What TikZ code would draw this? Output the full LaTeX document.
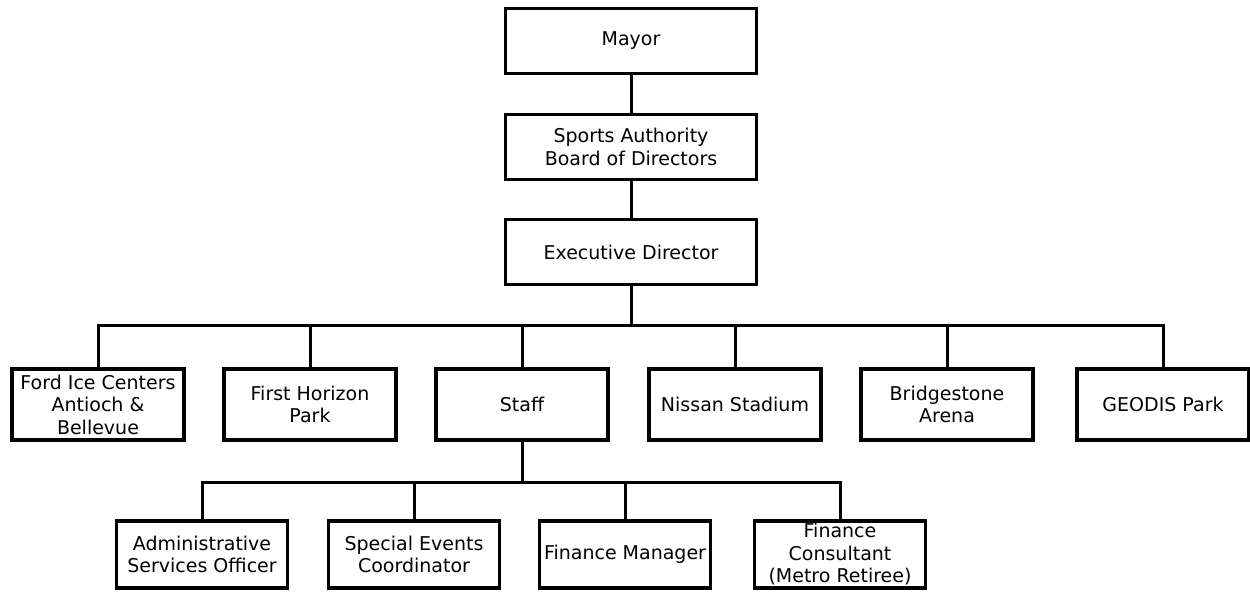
\documentclass[tikz,border=0pt]{standalone}
\usepackage{fontspec}
\setmainfont{DejaVu Sans}
\usepackage{tikz}
\usetikzlibrary{positioning, calc}

\begin{document}
\begin{tikzpicture}[
  x=1pt, y=-1pt,
  box/.style={draw, line width=3.6pt, minimum width=172pt, minimum height=71pt, align=center, inner sep=1pt, font=\fontsize{19}{22.5}\selectfont},
  topbox/.style={box, minimum width=251pt, minimum height=65pt},
  subbox/.style={box, minimum width=171pt, minimum height=67pt},
  link/.style={line width=3pt}
]
  \useasboundingbox (0,0) rectangle (1250,592);
  \def\busy{325}
  \def\subbusy{482}

  \node[topbox] (mayor) at (631,41) {Mayor};
  \node[topbox] (board) at (631,147) {Sports Authority\\Board of Directors};
  \node[topbox] (exec) at (631,252) {Executive Director};

  \node[box] (ford) at (98,404.5) {Ford Ice Centers\\Antioch \&\\Bellevue};
  \node[box] (fhp) at (310,404.5) {First Horizon\\Park};
  \node[box] (staff) at (522,404.5) {Staff};
  \node[box] (nissan) at (735,404.5) {Nissan Stadium};
  \node[box] (bridge) at (947,404.5) {Bridgestone\\Arena};
  \node[box] (geodis) at (1163,404.5) {GEODIS Park};

  \node[subbox] (aso) at (202,554.5) {Administrative\\Services Officer};
  \node[subbox] (sec) at (414,554.5) {Special Events\\Coordinator};
  \node[subbox] (fmgr) at (625,554.5) {Finance Manager};
  \node[subbox] (fcons) at (840,554.5) {Finance\\Consultant\\(Metro Retiree)};

  \coordinate (bus) at (0,\busy);
  \coordinate (subbus) at (0,\subbusy);

  \draw[link] (mayor) -- (board);
  \draw[link] (board) -- (exec);
  \draw[link] (exec.south) -- (exec.south |- bus);
  \draw[link] (ford.north) |- (geodis.north |- bus) -- (geodis.north);
  \draw[link] (fhp.north) -- (fhp.north |- bus);
  \draw[link] (staff.north) -- (staff.north |- bus);
  \draw[link] (nissan.north) -- (nissan.north |- bus);
  \draw[link] (bridge.north) -- (bridge.north |- bus);

  \draw[link] (staff.south) -- (staff.south |- subbus);
  \draw[link] (aso.north) |- (fcons.north |- subbus) -- (fcons.north);
  \draw[link] (sec.north) -- (sec.north |- subbus);
  \draw[link] (fmgr.north) -- (fmgr.north |- subbus);
\end{tikzpicture}
\end{document}
